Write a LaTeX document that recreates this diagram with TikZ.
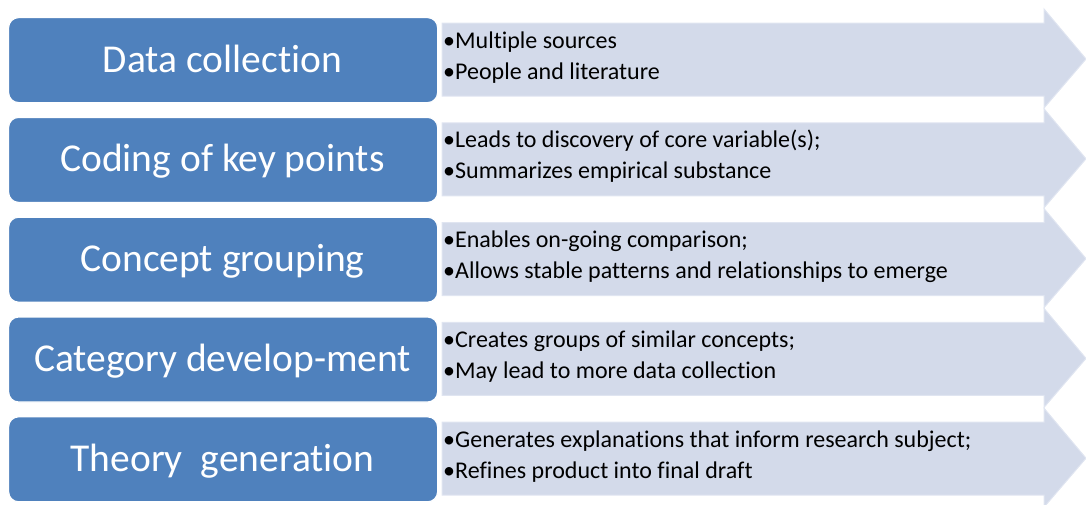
\documentclass[tikz,border=0pt]{standalone}
\usepackage{fontspec}
\setmainfont{Carlito}[Ligatures=NoCommon]
\definecolor{boxblue}{RGB}{79,129,189}
\definecolor{arrowfill}{RGB}{211,218,234}
\definecolor{arrowedge}{RGB}{224,229,241}
\newcommand\stagerow[5]{%
  \draw[arrowshape] (442,#1+6) -- (1044,#1+6) -- (1044,#1-8) -- (1086,#1+42)
     -- (1044,#1+91) -- (1044,#1+79) -- (442,#1+79) -- cycle;
  \node[stagebox] (box#2) at (8,#1) {};
  \node[stagetext] (label#2) at (222.5,#1+55) {#3};
  \node[bullettext] (bulA#2) at (443,#1+31) {•#4};
  \node[bullettext] (bulB#2) at (443,#1+62) {•#5};
}
\begin{document}
\begin{tikzpicture}[x=1pt,y=-1pt,
  stagebox/.style={draw=white, line width=1.2pt, fill=boxblue, rounded corners=10pt,
    minimum width=429pt, minimum height=85pt, inner sep=0pt, anchor=north west},
  stagetext/.style={text=white, font=\fontsize{39.5}{47}\selectfont, anchor=base, inner sep=0pt},
  bullettext/.style={text=black, font=\fontsize{24}{28}\selectfont, anchor=base west, inner sep=0pt},
  arrowshape/.style={fill=arrowfill, draw=arrowedge, line width=1pt}]
\useasboundingbox (0,0) rectangle (1086,504);
\stagerow{17}{1}{Data collection}{Multiple sources}{People and literature}
\stagerow{116.8}{2}{Coding of key points}{Leads to discovery of core variable(s);}{Summarizes empirical substance}
\stagerow{216.6}{3}{Concept grouping}{Enables on-going comparison;}{Allows stable patterns and relationships to emerge}
\stagerow{316.4}{4}{Category develop-ment}{Creates groups of similar concepts;}{May lead to more data collection}
\stagerow{416.2}{5}{Theory\ \ generation}{Generates explanations that inform research subject;}{Refines product into final draft}
\end{tikzpicture}
\end{document}
